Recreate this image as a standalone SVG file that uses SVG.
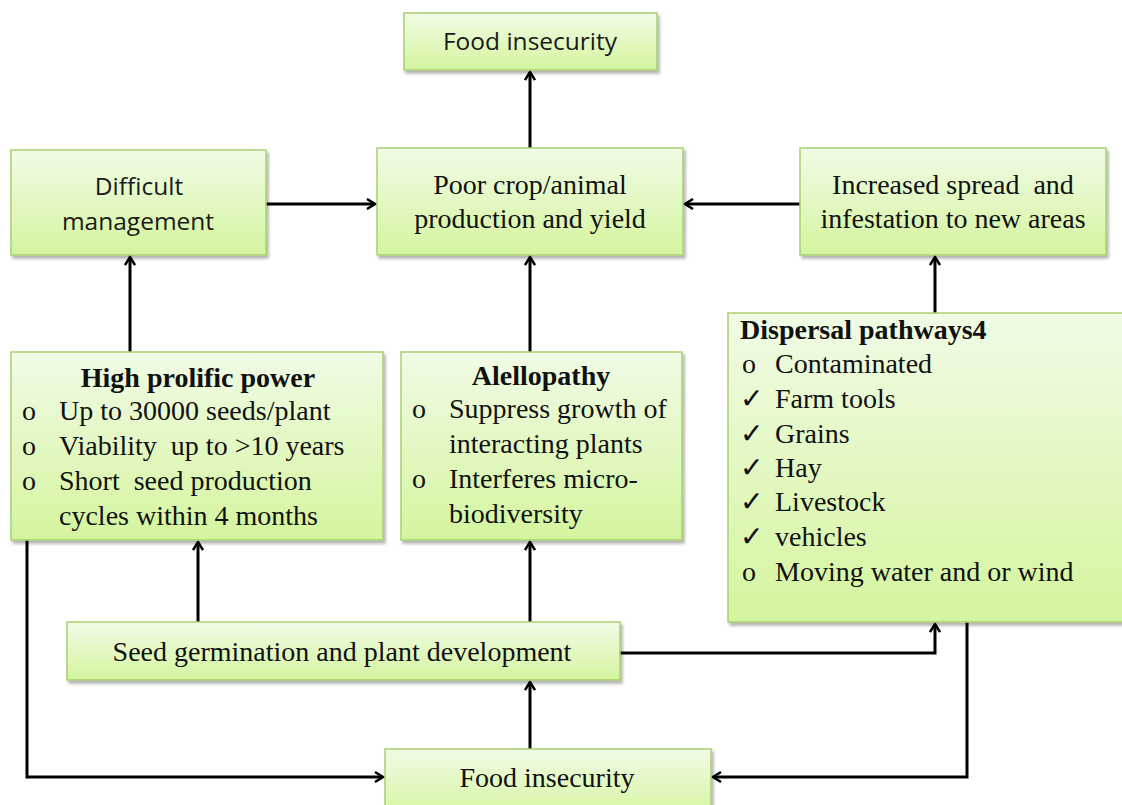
<svg xmlns="http://www.w3.org/2000/svg" width="1122" height="805" viewBox="0 0 1122 805">
<defs>
<linearGradient id="g" x1="0" y1="0" x2="0" y2="1">
<stop offset="0" stop-color="#f1fbe6"/>
<stop offset="1" stop-color="#d4f59e"/>
</linearGradient>
<filter id="sh" x="-5%" y="-5%" width="115%" height="120%">
<feDropShadow dx="2" dy="3" stdDeviation="1.5" flood-color="#000" flood-opacity="0.3"/>
</filter>
<marker id="ah" viewBox="0 0 12 12" refX="10" refY="6" markerWidth="12" markerHeight="12" markerUnits="userSpaceOnUse" orient="auto">
<path d="M2,1 L10,6 L2,11" fill="none" stroke="#000" stroke-width="2.5"/>
</marker>
<style>
.box{fill:url(#g);stroke:#a9cf72;stroke-width:1.5;filter:url(#sh)}
.sans{font-family:"Open Sans","Liberation Sans",sans-serif;font-size:24.5px;fill:#1a1a1a}
.ser{font-family:"Liberation Serif","Times New Roman",serif;font-size:28px;fill:#111}
.b{font-weight:bold}
.c{text-anchor:middle}
.ln{fill:none;stroke:#000;stroke-width:3;marker-end:url(#ah)}
</style>
</defs>
<g id="connectors">
<path class="ln" d="M530,148 V72"/>
<path class="ln" d="M266,204 H375"/>
<path class="ln" d="M800,204 H685"/>
<path class="ln" d="M130,352 V257"/>
<path class="ln" d="M530,352 V257"/>
<path class="ln" d="M935,313 V257"/>
<path class="ln" d="M198,622 V542"/>
<path class="ln" d="M530,622 V542"/>
<path class="ln" d="M620,653 H935 V624"/>
<path class="ln" d="M530,749 V682"/>
<path class="ln" d="M27,540 V777 H383"/>
<path class="ln" d="M967,622 V777 H713"/>
</g>
<g id="n-food-top">
<rect class="box" x="404" y="13" width="253" height="57"/>
<text class="sans c" x="530" y="50">Food insecurity</text>
</g>
<g id="n-difficult">
<rect class="box" x="11" y="150" width="255" height="105"/>
<text class="sans c" x="139" y="195">Difficult</text>
<text class="sans c" x="138" y="230">management</text>
</g>
<g id="n-poor">
<rect class="box" x="377" y="148" width="306" height="107"/>
<text class="ser c" x="530" y="194">Poor crop/animal</text>
<text class="ser c" x="530" y="228">production and yield</text>
</g>
<g id="n-spread">
<rect class="box" x="800" y="148" width="306" height="107"/>
<text class="ser c" x="953" y="194" xml:space="preserve">Increased spread  and</text>
<text class="ser c" x="953" y="228">infestation to new areas</text>
</g>
<g id="n-prolific">
<rect class="box" x="11" y="352" width="372" height="188"/>
<text class="ser b c" x="198" y="387">High prolific power</text>
<text class="ser" x="22" y="420">o</text>
<text class="ser" x="59" y="420">Up to 30000 seeds/plant</text>
<text class="ser" x="22" y="455">o</text>
<text class="ser" x="59" y="455" xml:space="preserve">Viability  up to &gt;10 years</text>
<text class="ser" x="22" y="490">o</text>
<text class="ser" x="59" y="490" xml:space="preserve">Short  seed production</text>
<text class="ser" x="59" y="525">cycles within 4 months</text>
</g>
<g id="n-alellopathy">
<rect class="box" x="401" y="352" width="281" height="188"/>
<text class="ser b c" x="541" y="385">Alellopathy</text>
<text class="ser" x="412" y="418">o</text>
<text class="ser" x="449" y="418">Suppress growth of</text>
<text class="ser" x="449" y="453">interacting plants</text>
<text class="ser" x="412" y="488">o</text>
<text class="ser" x="449" y="488">Interferes micro-</text>
<text class="ser" x="449" y="523">biodiversity</text>
</g>
<g id="n-dispersal">
<rect class="box" x="728" y="313" width="400" height="309"/>
<text class="ser b" x="740" y="339">Dispersal pathways4</text>
<text class="ser" x="742" y="373">o</text>
<text class="ser" x="775" y="373">Contaminated</text>
<text class="ser" x="740" y="408">✓</text>
<text class="ser" x="775" y="408">Farm tools</text>
<text class="ser" x="740" y="443">✓</text>
<text class="ser" x="775" y="443">Grains</text>
<text class="ser" x="740" y="477">✓</text>
<text class="ser" x="775" y="477">Hay</text>
<text class="ser" x="740" y="511">✓</text>
<text class="ser" x="775" y="511">Livestock</text>
<text class="ser" x="740" y="546">✓</text>
<text class="ser" x="775" y="546">vehicles</text>
<text class="ser" x="742" y="581">o</text>
<text class="ser" x="775" y="581">Moving water and or wind</text>
</g>
<g id="n-seed">
<rect class="box" x="67" y="622" width="553" height="58"/>
<text class="ser c" x="342" y="661">Seed germination and plant development</text>
</g>
<g id="n-food-bottom">
<rect class="box" x="385" y="749" width="326" height="70"/>
<text class="ser c" x="547" y="787">Food insecurity</text>
</g>
</svg>
